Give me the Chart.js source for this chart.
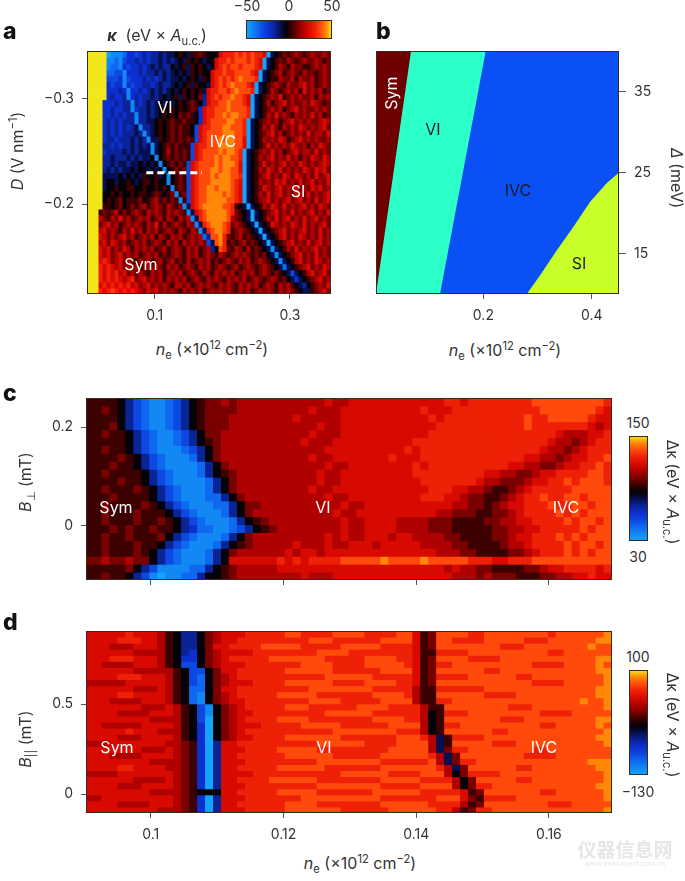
<!DOCTYPE html>
<html>
<head>
<meta charset="utf-8">
<script src="https://cdn.jsdelivr.net/npm/chart.js@4/dist/chart.umd.js"></script>
<style>
  html, body { margin: 0; background: #fff; }
  #page { position: relative; width: 685px; height: 881px; overflow: hidden; font-family: Inter, sans-serif; color: #333; }
  canvas { position: absolute; }
  .t { position: absolute; transform: translate(-50%, -50%); white-space: nowrap; font-size: 14px; font-weight: 400; line-height: 1; }
  .a { font-size: 16px; }
  .up { transform: translate(-50%, -50%) rotate(-90deg); }
  .down { transform: translate(-50%, -50%) rotate(90deg); }
  .w { color: #fff; font-size: 16px; }
  .k { color: #1a1a2a; font-size: 16px; }
  .p { transform: none; font-size: 23px; font-weight: 800; color: #111; }
  sub, sup { font-size: 70%; line-height: 0; }
</style>
</head>
<body>
<div id="page">
  <canvas id="cbA" width="86" height="19" style="left:246px;top:20px"></canvas>
  <canvas id="chartA" width="345" height="284" style="left:0;top:40px"></canvas>
  <canvas id="chartB" width="340" height="284" style="left:345px;top:40px"></canvas>
  <canvas id="chartC" width="625" height="207" style="left:0;top:385px"></canvas>
  <canvas id="cbC" width="19" height="105" style="left:629px;top:436px"></canvas>
  <canvas id="chartD" width="625" height="227" style="left:0;top:618px"></canvas>
  <canvas id="cbD" width="19" height="105" style="left:629px;top:670px"></canvas>

  <div class="t p" style="left:3px;top:20px">a</div>
  <div class="t p" style="left:376px;top:20px">b</div>
  <div class="t p" style="left:3px;top:382px">c</div>
  <div class="t p" style="left:3px;top:611px">d</div>

  <div class="t a" style="left:157px;top:35px"><b><i>κ</i></b>&nbsp; (eV × <i>A</i><sub>u.c.</sub>)</div>
  <div class="t" style="left:247px;top:6px">−50</div>
  <div class="t" style="left:289px;top:6px">0</div>
  <div class="t" style="left:332px;top:6px">50</div>

  <div class="t w" style="left:165px;top:107px">VI</div>
  <div class="t w" style="left:223px;top:141px">IVC</div>
  <div class="t w" style="left:298px;top:191px">SI</div>
  <div class="t w" style="left:141px;top:264px">Sym</div>
  <div class="t a up" style="left:17px;top:151px"><i>D</i> (V nm<sup>−1</sup>)</div>
  <div class="t a" style="left:212px;top:349px"><i>n</i><sub>e</sub> (×10<sup>12</sup> cm<sup>−2</sup>)</div>

  <div class="t w up" style="left:391px;top:93px">Sym</div>
  <div class="t k" style="left:433px;top:129px">VI</div>
  <div class="t k" style="left:518px;top:190px">IVC</div>
  <div class="t k" style="left:579px;top:263px">SI</div>
  <div class="t a down" style="left:677px;top:178px"><i>Δ</i> (meV)</div>
  <div class="t a" style="left:505px;top:350px"><i>n</i><sub>e</sub> (×10<sup>12</sup> cm<sup>−2</sup>)</div>

  <div class="t w" style="left:116px;top:507px">Sym</div>
  <div class="t w" style="left:323px;top:507px">VI</div>
  <div class="t w" style="left:566px;top:507px">IVC</div>
  <div class="t a up" style="left:25px;top:482px"><i>B</i><sub>⊥</sub> (mT)</div>
  <div class="t" style="left:638px;top:423px">150</div>
  <div class="t" style="left:638px;top:557px">30</div>
  <div class="t a down" style="left:673px;top:492px">Δκ (eV × <i>A</i><sub>u.c.</sub>)</div>

  <div class="t w" style="left:117px;top:747px">Sym</div>
  <div class="t w" style="left:324px;top:747px">VI</div>
  <div class="t w" style="left:544px;top:747px">IVC</div>
  <div class="t a up" style="left:25px;top:739px"><i>B</i><sub>||</sub> (mT)</div>
  <div class="t" style="left:638px;top:657px">100</div>
  <div class="t" style="left:638px;top:792px">−130</div>
  <div class="t a down" style="left:673px;top:725px">Δκ (eV × <i>A</i><sub>u.c.</sub>)</div>
  <div class="t a" style="left:360px;top:863px"><i>n</i><sub>e</sub> (×10<sup>12</sup> cm<sup>−2</sup>)</div>

  <div class="t" style="left:625px;top:848px;font-size:19px;font-weight:700;color:#e6e6e6;font-family:'Noto Sans CJK SC'">仪器信息网</div>
  <div class="t" style="left:625px;top:863px;font-size:7px;color:#e6e6e6">www.instrument.com.cn</div>
</div>

<script>
// one char per cell, 0 = light blue ... 7 = black ... f = yellow
const levelColors = [
  "#12a5fb", "#1288f5", "#0f68f0", "#0d48e0", "#0c30d0", "#0a2498", "#060f50", "#020208",
  "#3c0000", "#7a0000", "#b00000", "#d80a00", "#ee2006", "#ff4a0c", "#ff8808", "#f2e61c"
]

const aTicksX = [0.1, 0.3]
const aTicksY = [-0.3, -0.2]
const dashN = [0.0877, 0.17]
const dashD = [-0.2299, -0.2299]

// columns: n_e 0 .. 0.3607, rows: D -0.3452 .. -0.115
const kappaRows = [
  "fffff 01112 44345455656 678768898 777 bcccdcdcdccb 0 678 989a989a99a9",
  "fffff 112 1 3445454556565676878767 7 bccdcdddcdcb 0 678 98a989a99a989",
  "fffff 122 1 4344545656557678687876 7 bcdcddcdddcb 0 678 a98a99889a9a9",
  "fffff 2233 1 44454556565676768787 7 bccdccddddcb 0 678 9a89a98a9989a9",
  "fffff 3334 1 34445454565667678768 7 bcdcdcdedddc 0 678 8a99a8a99a89a9",
  "fffff 4344 1 43445545655676786877 6 bcdcdedddcb 0 678 9a98a99ab9a89a9",
  "fffff 44454 1 445456565676787878 6 bccddcdedddc 0 678 a989a9a8b9a9a89",
  "fffff 45445 1 454556567678687879 5 bcdcddeddcb 0 678 9a9b89a9a99a8a9a",
  "ffff 4445455 1 54565676767878987 5 bccddedddcb 0 678 a89ab9a99a9ba989",
  "ffff 4454455 1 4556567878787898 4 bccdddeddddc 0 678 9a9a89ab9a99a9a9",
  "ffff 44545455 1 556567878798987 4 bccddedeeddc 0 678 a9b9a98a9a9b9a89",
  "ffff 45454555 1 556678789889887 4 bcddddeeddc 0 678 9a9a89ab9a9a99aba",
  "ffff 454545456 1 5567878989887 3 bccdddeedddc 0 678 a9b98a9a9ba9a9ab9",
  "ffff 4545455565 1 567878989887 3 bcddddeeeddc 0 678 9ab9a89a9a9b9aa9b",
  "ffff 45545556565 1 66878989898 3 bcdddedeeddb 0 678 a9a9ba89ab9a9a99a",
  "ffff 554545565656 1 678989888 3 bccdddeeeeddb 0 678 9b9a9a9ba9a8a9ba9",
  "ffff 455556565666 1 678a89898 3 bcddddedeedc 0 678 9a9b9a89ab9aa9b9a9",
  "ffff 5565556565667 1 78989898 3 bcdddedeeddc 0 678 a9ab9a9b9a8a9ba9ba",
  "ffff 55656656676767 1 789898 3 bcddddedeeedb 0 678 9b9a9ab9a9ba9a9aba",
  "ffff 565656676776767 1 78989 3 bcdddeedeeddb 0 678 a9ba9b9a9a9ba9bab9",
  "ffff 6666767676877867 1 7898 3 bcdddedeeeddc 0 678 9ab9a9ba9ba9a9b9ab",
  "ffff 6776778767887877 1 7898 3 bcdddeeeeedcb 0 678 a9a9bab9a9b9ab9a9b",
  "ffff 67787788778778787 1 898 3 bcddeedeeedcb 0 678 9ba9ab9a9b9a9bab9a",
  "ffff 778787787887898789 1 89 3 bcddeeeededcb 0 678 a9b9ab9a9ba9b9a9ab",
  "ffff 7878978889789a89898 1 8 3 bcddeeeeeddcb 0 678 9ab9a9ab9ab9a9b9ab",
  "ffff 8878978989a89a98a989 1 6 bcdeeeeeddc 876 0 678 a9ba9b9a9ab9a9ba9",
  "fff 8989a8989a98a9a98a9a98 1 6 bcdeeeeedc 9876 0 678 9ab9a9b9a9ab9a9b",
  "fff a98a9b9a89a9a89a8a98a9a 1 6 cdeeeeed a9876 0 678 a9b9ab9a9b9ab9a9",
  "fff 9ab9a89a9a98a9b8a89a98a9 1 6 cdeeedc 9a9876 0 678 ba9a9ba9b9a9ab9",
  "fff ab9a98a9b9a8a9a89a98a98a9 1 6 cdeedc 89a9876 0 678 9ab9a9ab9a9b9a",
  "fff ba9a9ab9a89a9a8a98a9a89a9a 2 5 ddec 989a89876 0 678 ab9a9ba9a9b9a",
  "fff ab9ba9a89a9a89a98a9a8a9a9a9 3 6 dec 8989a89876 0 678 9ab9a9b9ab9a",
  "fff bab9a9ba8a9a9a89a89a98a9a89a 5 7 dc 98a98a89876 1 678 a9b9a9ab9a9",
  "fff bab9ab9a9a 89a9a8989a 98a9a89a98 a989a9a989 8976 1 678 9ab9a9b9a9",
  "fff bcb9ab9a98 a9a89a89a8 98a89a9a89 89a98a9a89 a9876 1 678 ab9a9ba9a",
  "fff cbcbab9a9a 89a9a98a9a 89a98a9a89 a989a89a98 9a9876 2 678 9ab9a9ba",
  "fff cbcbcab9a9 a98a9a89a9 a89a98a98a 9a9a89a9a8 9a989876 3 678 ab9ab9",
  "fff cbcbcbabc9 ab9a9a8a9a 9a89a98a9a 98a9a9a89a 989a98976 4 678 9ab9a",
  "fff bcbcbcbcab 9ab9a9a98a a9a89a9a98 a9a98a9a9a 89a98a9a876 5 789 a9b",
  "fff cbcdcbcbcb a9bab9a9a9 8a9a9a89a9 a9a98a9a89 a9a98a9a9876 6 89ab9"
]

// region boundaries of panel b
const bTicksX = [0.2, 0.4]
const bTicksY = [15, 25, 35]
const symEdgeN = [0.002, 0.0033, 0.0666]
const symEdgeGap = [10, 10, 40]
const viEdgeN = [0.002, 0.12, 0.2044]
const viEdgeGap = [10, 10, 40]
const siEdgeN = [0.28, 0.3046, 0.3354, 0.366, 0.3969, 0.4276, 0.45]
const siEdgeGap = [10, 12.3, 15.4, 18.3, 21.4, 23.7, 25]
const ivcTopN = [0.002, 0.45]
const ivcTopGap = [40, 40]

const lowerTicksX = [0.1, 0.12, 0.14, 0.16]
const cTicksY = [0, 0.2]
const dTicksY = [0, 0.5]

// columns: n_e 0.09026 .. 0.1695, rows: B 0.2588 .. -0.1095
const perpRows = [
  "8888 75 321123 57 899a9aaaaa aaaaaabaab bbbbbbbbbb bccbcccccc ccdddddddd dc",
  "8898 75 321123 57 89999aaaaa aaaabaaabb bbbbbbbbcb bbcccccccc cccddddddd cb",
  "8888 75 321123 57 8999aaaaaa aabaaaaabb bbbbbbbbbc bccccccccc cdccdddddc bb",
  "8889 75 321123 57 8999aaaaaa aaaaabaabb bbbbbbbbbb cccccccccc cdcccccccb ab",
  "88988 75 321123 57 99aaaaaaaa aaabaaabbb bbbbbbbbcc cccccccccc ccccbaaabb c",
  "88888 75 321123 57 89aaaaaaaa aabaaabbbb bbbbbbcccc cccccccccc cccbaa9abc c",
  "88988 75 3211123 57 9aaaaaaaaa aaaabbbbbb bbbbcbcccc cccccccccc cbaa9abccc",
  "888898 75 321112 57 9aaaaaaaaa aabaabbbbb bbcbbbcccc cccccccccb baa9abbccd",
  "888988 75 3211112 57 9aaaaaaaaa aaabaabbbb bbbbcbcccc ccccccbbaa 99abbccdc",
  "8898888 75 321112 57 89aaaaaaaa aabaabbbbb bbbbcccccc cccbbaa99a bbccccddc",
  "8888988 75 3211112 57 9aaaaaaaaa abaabbbbbb bbbbcccccc cbaa999abb ccdcdddc",
  "88988898 75 321112 57 9aaaaaaaaa baabbbbbbb bbbbbcccbb aa9889abcc cccddddd",
  "88898888 75 3211122 57 9aaaaaaaaa abaabbbbbb bbbcccbba9 9889abccdc cddcddd",
  "889888898 75 3211122 57 99aaaaaaaa aabaabbbbb bbbbbbaa99 89abbcccdc cddcdd",
  "8898889888 75 321112 57 9aaaaaaaaa abaabbbbbb bbbbaa9998 899abccccd cdcddd",
  "88988898898 75 321112 57 89aaaaaaaa abaabbbbaa aa99988889 9aabbccccd cddcd",
  "88898988988 75 4221123 57 89aaaaaaaa baabbbbaaa a999888889 9aabbccccc dcdd",
  "8898898889 75 321112 57 9aaaaaaaaa babaabbbab baaaa99888 899abbcccd cdcddd",
  "889888988 75 321112 57 89aaaaabaa abaabbbabb bbbaaaa998 8889aabccc cdcddcd",
  "88988898 75 321112 57 9aaaaaabab babbbbbbbb bbbbbbaaa9 9888899abc ccdcdcdd",
  "99a99a99 75 321112 57 bbbbbbcbcb ccccddddde ddddeddddd cccbbcccdd dddddddd",
  "888889 75 3111122 57 89aaaaabbb bbbbbbbbbb bbbbbbbbab aa99888899 abbccccbc",
  "88988 75 3101122 57 789aaaaaaa abaaabbbbb bbbbbbbbbb aaa9a99988 899aabbcbb"
]

// columns: n_e 0.09026 .. 0.1695, rows: B 0.907 .. -0.104
const parallelRows = [
  "bbbbbcbbb a87 55 79 abbbcccccddccccddddccccdd b89 ddddccddddddddcdddddde",
  "bbbbcccbb a87 55 79 abbcccccccccdddccccccdddd b89 ddccccdddddcccddddddee",
  "bbbaaabbb a87 55 79 bbccccdddddcccccdddddcccc b89 ddddddddcccddddddddedd",
  "bbbbbbaaa a87 54 79 abbbbccccccccddddcccccccc b88 ccccddddddddddccdddddd",
  "bbbcccbbb a87 44 79 abcccccdddddddcccccddddcc b89 ddddccccddddddddddddee",
  "bbaaaabbb a87 33 79 abbbcccccccddddccccdddddc b89 ccddddddddddccccdddded",
  "bbbbbbaaaa a87 33 79 bbccccccddddddccccccdddd b89 ddddddccddddddddddddee",
  "bbbbcccbbb a87 32 79 abcccccccccccddddddccccc b89 ccccddddddccddddddddde",
  "aaaaabbbbb a87 32 79 abbbccccddddddccccddddcc b89 ddddddddddddccccddddde",
  "bbbbbbaaab a87 22 79 bbcccccccccddddddddccccc a88 ccccccddddddddddddddee",
  "bbbbccbbbb a87 21 79 abcccccdddddcccccccddddc a88 ddddddccccddddddddddee",
  "bbbaaaabbb a87 21 79 abbccccccccddddcccccdddd a88 ccddddddddddddddddedde",
  "bbbbbbbaaab a87 31 79 abcccccdddccccccddddcccc a88 ddddddddcccddddddddde",
  "bbbbaaaabbb a87 31 79 abbcccccccccddddddcccccc a78 cccdddddddddccccddddd",
  "bbbbbbbbaaa a87 30 79 abccccddddccccccccddddcc a78 dddddddcccdddddddddee",
  "bbaaaaabbbb a87 40 79 abbbcccccdddddccccccdddd a78 ccddddddddddccddddded",
  "bbbbbcbbbaa a87 40 79 abcccccccccccddddddddccc a78 ddddddccdddddddddddde",
  "bbbbaaabbbb a87 40 79 abbccccdddddddcccccccdddc a68 ccccddddddddddddddee",
  "aaabbbbbbba a98 40 5b bccccccccccddddddccccdddd a68 dddddcccddddddddddde",
  "bbbbbbbaaab a98 40 5b bbccccdddddcccccccccddddd a69 ccddddddddccdddddddd",
  "bbbaaaabbbb a98 40 5b bccccccddddddccccccddddddc a69 ddddddddccccddddddd",
  "bbbbbbbbaaa a98 40 5b bbcccccccccddddddddccccccd a69 ccddddddddddddddeee",
  "bbbbccbbbba a98 40 5b bcccccddddddcccccccdddddddc a69 ddddddccddddddddee",
  "aaaabbbbbbb a98 40 5b bbbcccccccccccddddddccccddd a79 ccccddddddddddddde",
  "bbbbbbaaaab a98 40 5b bccccddddddccccccccdddddcccc a79 dddddccddddddddde",
  "bbbbaaabbbb a98 40 5b bbcccccccccddddddddcccccdddd a79 ccdddddddddddddee",
  "bbbbbbbbaaa a98 77 7b bcccccdddddcccccccddddddccccc b89 dddddddccdddddde",
  "aabbbbbbbbb a98 40 5b bbcccccccddddddddddcccccccddd b98 ccccddddddddddde",
  "bbbbaaaabbb a98 40 5b bccccccddddccccccccddddddcccc a89 ddddddddcccddddd",
  "bbbbbbbbbaa a98 40 5b bbcccccdddddddccccccddddddcc a89 ccdddddddddddddde"
]

const INK = "#333"
const FRAME = "#3a2a20"
const TICK_FONT = { family: "Inter, sans-serif", size: 14 }

Chart.defaults.animation = false
Chart.defaults.responsive = false
Chart.defaults.plugins.legend.display = false
Chart.defaults.plugins.tooltip.enabled = false

const framePlugin = {
  id: "frame",
  afterDraw(chart) {
    const { ctx, chartArea: a } = chart
    ctx.save()
    ctx.strokeStyle = FRAME
    ctx.lineWidth = 1
    ctx.strokeRect(a.left + 0.5, a.top + 0.5, a.right - a.left - 1, a.bottom - a.top - 1)
    ctx.restore()
  }
}

function axis(o) {
  return {
    type: "linear",
    position: o.position,
    min: o.min,
    max: o.max,
    reverse: !!o.reverse,
    offset: false,
    border: { display: false },
    grid: { offset: false, drawOnChartArea: false, drawTicks: true, tickLength: o.tickLength || 5, tickColor: "#555" },
    ticks: {
      display: o.labels !== false,
      color: INK,
      font: TICK_FONT,
      padding: o.padding,
      maxRotation: 0,
      autoSkip: false,
      callback: v => String(v).replace("-", "−")
    },
    afterBuildTicks(scale) { scale.ticks = o.ticks.map(value => ({ value })) },
    afterFit(scale) {
      if (o.width !== undefined) scale.width = o.width
      if (o.height !== undefined) scale.height = o.height
      // keep the plot rectangle exactly where the padding puts it
      scale.paddingTop = scale.paddingBottom = scale.paddingLeft = scale.paddingRight = 0
    }
  }
}

// every cell is a floating bar on the real axes
function cellDatasets(rows, cols, xMin, xMax, yTop, yBottom) {
  const dx = (xMax - xMin) / cols
  const dy = (yBottom - yTop) / rows.length
  return rows.map((row, r) => {
    const cells = row.replace(/ /g, "").padEnd(cols, row.slice(-1)).slice(0, cols).split("")
    return {
      type: "bar",
      grouped: false,
      barPercentage: 1,
      categoryPercentage: 1,
      inflateAmount: 0.5,
      borderWidth: 0,
      data: cells.map((_, c) => ({ x: xMin + (c + 0.5) * dx, y: [yTop + r * dy, yTop + (r + 1) * dy] })),
      backgroundColor: cells.map(ch => levelColors[parseInt(ch, 16)])
    }
  })
}

function heatChart(id, rows, cols, x, y, padding, extra) {
  const xMin = x.min, xMax = x.max
  const yTop = y.reverse ? y.min : y.max
  const yBottom = y.reverse ? y.max : y.min
  new Chart(document.getElementById(id), {
    type: "bar",
    data: { datasets: cellDatasets(rows, cols, xMin, xMax, yTop, yBottom).concat(extra || []) },
    options: {
      layout: { padding },
      scales: { x: axis(x), y: axis(y) }
    },
    plugins: [framePlugin]
  })
}

function colorbar(id, min, max, horizontal) {
  const valueKey = horizontal ? "x" : "y"
  const other = horizontal ? "y" : "x"
  new Chart(document.getElementById(id), {
    type: "bar",
    data: {
      labels: ["scale"],
      datasets: [{
        data: [[min, max]],
        barPercentage: 1,
        categoryPercentage: 1,
        backgroundColor(c) {
          const a = c.chart.chartArea
          if (!a) return levelColors[7]
          const g = horizontal
            ? c.chart.ctx.createLinearGradient(a.left, 0, a.right, 0)
            : c.chart.ctx.createLinearGradient(0, a.bottom, 0, a.top)
          levelColors.forEach((col, i) => g.addColorStop(i / (levelColors.length - 1), col))
          return g
        }
      }]
    },
    options: {
      indexAxis: horizontal ? "y" : "x",
      scales: {
        [valueKey]: { type: "linear", min, max, display: false },
        [other]: { display: false }
      }
    },
    plugins: [framePlugin]
  })
}

heatChart("chartA", kappaRows, 61,
  { position: "bottom", min: 0, max: 0.3607, ticks: aTicksX, height: 30, padding: 8 },
  { position: "left", min: -0.3452, max: -0.115, reverse: true, ticks: aTicksY, width: 87, padding: 8 },
  { top: 11, right: 14 },
  [{
    type: "line",
    order: -1,
    data: dashN.map((n, i) => ({ x: n, y: dashD[i] })),
    borderColor: "#fff",
    borderWidth: 3,
    borderDash: [7, 4],
    pointRadius: 0
  }]
)

function region(xs, ys, color, fill) {
  return {
    data: xs.map((x, i) => ({ x, y: ys[i] })),
    backgroundColor: color,
    borderWidth: 0,
    pointRadius: 0,
    tension: 0,
    fill
  }
}

new Chart(document.getElementById("chartB"), {
  type: "line",
  data: {
    datasets: [
      region(symEdgeN, symEdgeGap, "#6e0000", "end"),
      region(viEdgeN, viEdgeGap, "#2dffc8", "end"),
      region(siEdgeN, siEdgeGap, "#c8ff28", "start"),
      region(ivcTopN, ivcTopGap, "#0a50f5", "start")
    ]
  },
  options: {
    layout: { padding: { left: 31, top: 11, right: 26 } },
    scales: {
      x: axis({ position: "bottom", min: 0.002, max: 0.45, ticks: bTicksX, height: 30, padding: 8 }),
      y: axis({ position: "right", min: 10, max: 40, ticks: bTicksY, width: 40, tickLength: 7, padding: 8 })
    }
  },
  plugins: [framePlugin]
})

heatChart("chartC", perpRows, 66,
  { position: "bottom", min: 0.09026, max: 0.1695, ticks: lowerTicksX, height: 12, labels: false },
  { position: "left", min: -0.1095, max: 0.2588, ticks: cTicksY, width: 86, padding: 8 },
  { top: 13, right: 13 }
)

heatChart("chartD", parallelRows, 66,
  { position: "bottom", min: 0.09026, max: 0.1695, ticks: lowerTicksX, height: 32, padding: 8 },
  { position: "left", min: -0.104, max: 0.907, ticks: dTicksY, width: 86, padding: 8 },
  { top: 13, right: 13 }
)

colorbar("cbA", -50, 50, true)
colorbar("cbC", 30, 150, false)
colorbar("cbD", -130, 100, false)
</script>
</body>
</html>
